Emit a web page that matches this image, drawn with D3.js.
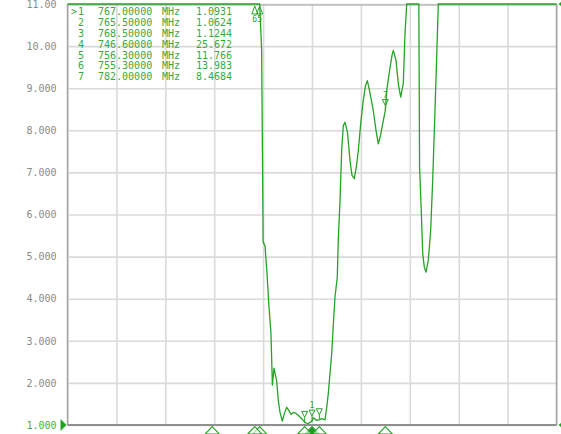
<!DOCTYPE html>
<html>
<head>
<meta charset="utf-8">
<script src="https://cdn.jsdelivr.net/npm/d3@7"></script>
<style>
  body { margin: 0; background: #fff; }
  svg { display: block; }
</style>
</head>
<body>
<svg id="chart" width="561" height="434"></svg>
<script>
// ---- Data: SWR-style trace, frequency in MHz ----
const traceFreq = [
  717, 725, 735, 746.6, 752, 755.3, 756.3, 756.7, 756.9, 757.0, 757.4, 757.8, 758.2, 758.6,
  758.9, 759.23, 759.78, 760.11, 760.46, 760.93, 761.34, 761.83, 762.30, 762.71, 763.18,
  763.67, 764.20, 764.89, 765.5, 766.12, 767.0, 767.27, 767.96, 768.5, 768.98, 769.66,
  770.01, 770.33, 770.68, 771.03, 771.29, 771.70, 772.17, 772.38, 772.73, 773.07, 773.40,
  773.75, 774.26, 774.77, 775.18, 775.65, 776.10, 776.47, 777.02, 777.49, 777.94, 778.31,
  778.76, 779.53, 780.09, 780.56, 781.01, 781.58, 782.0, 782.28, 782.95, 783.36, 783.63,
  784.18, 784.65, 785.14, 785.67, 786.02, 786.37, 787.5, 788.5, 788.85, 789.0, 789.39,
  789.64, 789.97, 790.31, 790.78, 791.27, 791.68, 792.15, 792.50, 792.83, 795, 800, 810, 817
];
const traceValue = [
  30, 29, 27, 25.672, 18, 13.983, 11.766, 9.9, 7.0, 5.35, 5.25, 4.6, 3.8, 3.2,
  1.95, 2.35, 2.05, 1.58, 1.30, 1.09, 1.27, 1.42, 1.34, 1.25, 1.30,
  1.28, 1.23, 1.15, 1.0624, 1.03, 1.0931, 1.17, 1.11, 1.1244, 1.15, 1.12,
  1.42, 1.74, 2.22, 2.70, 3.24, 4.04, 4.51, 5.42, 6.33, 7.52, 8.11,
  8.19, 7.95, 7.28, 6.93, 6.85, 7.16, 7.52, 8.23, 8.71, 9.06, 9.18,
  8.95, 8.47, 8.00, 7.68, 7.88, 8.23, 8.4684, 8.95, 9.49, 9.78, 9.90,
  9.66, 9.11, 8.79, 9.11, 10.30, 11.1, 14, 12.5, 11.5, 7.12, 5.94,
  5.07, 4.75, 4.63, 4.91, 5.62, 6.81, 8.47, 9.74, 11.5, 16, 20, 22, 24
];

// Axis ticks
const xTicks = [717, 727, 737, 747, 757, 767, 777, 787, 797, 807, 817];
const yTicks = [1, 2, 3, 4, 5, 6, 7, 8, 9, 10, 11];
const yTickLabels = ["1.000", "2.000", "3.000", "4.000", "5.000", "6.000", "7.000", "8.000", "9.000", "10.00", "11.00"];

// Markers
const markerIds = [1, 2, 3, 4, 5, 6, 7];
const markerFreq = [767.0, 765.5, 768.5, 746.6, 756.3, 755.3, 782.0];
const markerValue = [1.0931, 1.0624, 1.1244, 25.672, 11.766, 13.983, 8.4684];
const markerFreqText = ["767.00000", "765.50000", "768.50000", "746.60000", "756.30000", "755.30000", "782.00000"];
const markerValueText = ["1.0931", "1.0624", "1.1244", "25.672", "11.766", "13.983", "8.4684"];
const activeMarker = 1;
const topFlagMarkers = [5, 6];

// ---- Layout ----
const svg = d3.select("#chart");
const X0 = 67.5, X1 = 556.5, Y0 = 4, Y1 = 425;
const GREEN = "#26a326";
const LEGEND_GREEN = "#3aa83a";
const MONO = "'DejaVu Sans Mono', 'Liberation Mono', monospace";

const x = d3.scaleLinear().domain([717, 817]).range([X0, X1]);
const y = d3.scaleLinear().domain([1, 11]).range([Y1, Y0]).clamp(true);

// ---- Grid ----
const gx = svg.append("g")
  .attr("transform", `translate(0,${Y1})`)
  .call(d3.axisBottom(x).tickValues(xTicks).tickSize(-(Y1 - Y0)).tickFormat(""));
gx.select(".domain").remove();
gx.selectAll(".tick line").attr("stroke", "#dadada").attr("stroke-width", 1.6);

const gy = svg.append("g")
  .attr("transform", `translate(${X0},0)`)
  .call(d3.axisLeft(y).tickValues(yTicks).tickSize(-(X1 - X0)).tickPadding(11)
    .tickFormat((d, i) => yTickLabels[i]));
gy.select(".domain").remove();
gy.selectAll(".tick line").attr("stroke", "#dadada").attr("stroke-width", 1.6);
gy.selectAll(".tick text")
  .attr("font-family", MONO)
  .attr("font-size", 10)
  .attr("fill", d => d === 1 ? "#3fb23f" : "#8a8a8a");

// ---- Frame ----
svg.append("line").attr("x1", X0).attr("x2", X0).attr("y1", Y0).attr("y2", Y1)
  .attr("stroke", "#a6a6a6").attr("stroke-width", 1.5);
svg.append("line").attr("x1", X1).attr("x2", X1).attr("y1", Y0).attr("y2", Y1)
  .attr("stroke", "#a6a6a6").attr("stroke-width", 1.5);
svg.append("line").attr("x1", X0).attr("x2", X1).attr("y1", Y0 + 1).attr("y2", Y0 + 1)
  .attr("stroke", "#a6a6a6").attr("stroke-width", 1.2);
svg.append("line").attr("x1", X0).attr("x2", X1).attr("y1", Y1).attr("y2", Y1)
  .attr("stroke", "#8f8f8f").attr("stroke-width", 2);

// Reference level pointers
svg.append("path")
  .attr("d", `M${X0 - 7},${Y1 - 6}L${X0 - 1},${Y1}L${X0 - 7},${Y1 + 6}Z`)
  .attr("fill", "#1fa31f");
svg.append("path")
  .attr("d", `M${X1 + 7},${Y1 - 4}L${X1 + 2},${Y1}L${X1 + 7},${Y1 + 4}Z`)
  .attr("fill", "#1fa31f");
svg.append("path")
  .attr("d", `M${X1 + 7},${Y0 - 4}L${X1 + 2},${Y0}L${X1 + 7},${Y0 + 4}Z`)
  .attr("fill", "#1fa31f");

// ---- Trace ----
const pts = traceFreq.map((f, i) => [f, traceValue[i]]);
const line = d3.line().x(d => x(d[0])).y(d => y(d[1]));
svg.append("path")
  .datum(pts)
  .attr("d", line)
  .attr("fill", "none")
  .attr("stroke", GREEN)
  .attr("stroke-width", 1.3)
  .attr("stroke-linejoin", "round");

// ---- Markers on trace ----
markerIds.forEach((id, i) => {
  const v = markerValue[i];
  const mx = x(markerFreq[i]);
  if (v <= 11) {
    const my = y(v);
    const g = svg.append("g").attr("stroke", GREEN).attr("fill", "none").attr("stroke-width", 1);
    g.append("path").attr("d", `M${mx - 3},${my - 11}L${mx + 3},${my - 11}L${mx},${my - 5}Z`);
    g.append("line").attr("x1", mx).attr("x2", mx).attr("y1", my - 5).attr("y2", my);
    if (id === activeMarker || id === 7) {
      svg.append("text").attr("x", mx).attr("y", my - 13)
        .attr("text-anchor", "middle").attr("font-family", MONO).attr("font-size", 8)
        .attr("fill", GREEN).text(id);
    }
  }
});

// Off-scale markers flagged at the top edge
topFlagMarkers.forEach(id => {
  const i = markerIds.indexOf(id);
  const mx = x(markerFreq[i]);
  svg.append("path")
    .attr("d", `M${mx - 3},${Y0 + 10}L${mx + 3},${Y0 + 10}L${mx},${Y0 + 2}Z`)
    .attr("fill", "none").attr("stroke", GREEN).attr("stroke-width", 1);
  svg.append("text").attr("x", mx).attr("y", Y0 + 18)
    .attr("text-anchor", "middle").attr("font-family", MONO).attr("font-size", 8)
    .attr("fill", GREEN).text(id);
});

// Marker positions on the frequency axis
markerIds.forEach((id, i) => {
  const mx = x(markerFreq[i]);
  svg.append("path")
    .attr("d", `M${mx - 7},${Y1 + 9}L${mx},${Y1 + 1.5}L${mx + 7},${Y1 + 9}Z`)
    .attr("fill", id === activeMarker ? "#1f9a1f" : "#ffffff")
    .attr("fill-opacity", id === activeMarker ? 1 : 0.6)
    .attr("stroke", GREEN).attr("stroke-width", 1.1);
});

// ---- Marker table ----
const legend = svg.append("g")
  .attr("font-family", MONO).attr("font-size", 10).attr("fill", LEGEND_GREEN);
markerIds.forEach((id, i) => {
  const ty = 15.2 + i * 10.83;
  if (id === activeMarker) legend.append("text").attr("x", 71).attr("y", ty).text(">");
  legend.append("text").attr("x", 84).attr("y", ty).attr("text-anchor", "end").text(id);
  legend.append("text").attr("x", 98).attr("y", ty).text(markerFreqText[i]);
  legend.append("text").attr("x", 162).attr("y", ty).text("MHz");
  legend.append("text").attr("x", 232).attr("y", ty).attr("text-anchor", "end").text(markerValueText[i]);
});
</script>
</body>
</html>
